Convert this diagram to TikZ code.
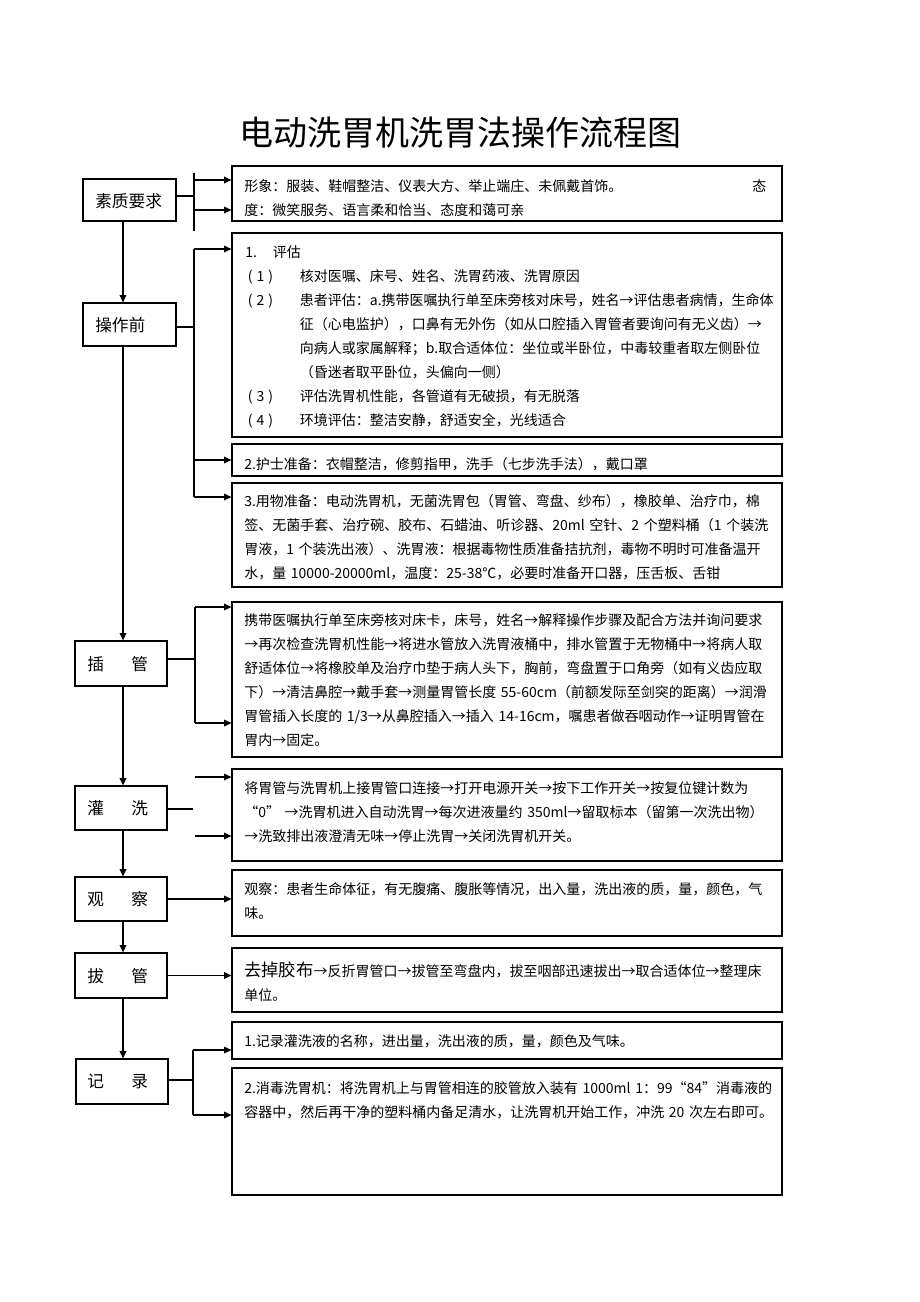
\documentclass[tikz,border=0pt]{standalone}
\usepackage{fontspec}
\setmainfont{Noto Sans CJK SC}
\usepackage{tikz}
\usetikzlibrary{arrows.meta, fit, positioning}
\tikzstyle{stepbox} = [draw, line width=0.9pt, inner sep=0pt]
\tikzstyle{infobox} = [draw, line width=0.9pt, inner sep=0pt]
\tikzstyle{conn} = [draw, line width=0.9pt]
\tikzstyle{arrow} = [draw, line width=0.9pt, -{Triangle[length=5.5pt, width=5pt]}]
\tikzstyle{steptext} = [anchor=west, inner sep=0pt, font=\fontsize{12.5pt}{15pt}\selectfont]
\tikzstyle{boxtext} = [anchor=base west, inner sep=0pt, text width=400pt, align=left, font=\fontsize{10.5pt}{18pt}\selectfont]

\begin{document}
\begin{tikzpicture}[x=0.75pt, y=-0.75pt]
\useasboundingbox (0,0) rectangle (920,1302);

\node[font=\fontsize{25.5pt}{30pt}\selectfont, inner sep=0pt] (title) at (460,133) {电动洗胃机洗胃法操作流程图};

% left column
\node[stepbox, fit={(83,179) (176,221)}] (suzhi) {};
\node[stepbox, fit={(83,303) (176,346)}] (caozuoqian) {};
\node[stepbox, fit={(75,641) (167,686)}] (chaguan) {};
\node[stepbox, fit={(75,786) (167,830)}] (guanxi) {};
\node[stepbox, fit={(75,877) (167,921)}] (guancha) {};
\node[stepbox, fit={(75,953) (167,998)}] (baguan) {};
\node[stepbox, fit={(76,1059) (168,1104)}] (jilu) {};

\node[steptext] (suzhitext) at (95,201) {素质要求};
\node[steptext] (caozuoqiantext) at (95,325) {操作前};
\node[steptext] (chaguantext) at (87,664) {插\hspace{20.5pt}管};
\node[steptext] (guanxitext) at (87,808) {灌\hspace{20.5pt}洗};
\node[steptext] (guanchatext) at (87,899) {观\hspace{20.5pt}察};
\node[steptext] (baguantext) at (87,976) {拔\hspace{20.5pt}管};
\node[steptext] (jilutext) at (87,1081) {记\hspace{20.5pt}录};

% right column
\node[infobox, fit={(232,166) (782,221)}] (xingxiang) {};
\node[infobox, fit={(232,233) (782,437)}] (pinggu) {};
\node[infobox, fit={(232,444) (782,476)}] (hushi) {};
\node[infobox, fit={(232,483) (782,587)}] (yongwu) {};
\node[infobox, fit={(232,602) (782,757)}] (chaguanbox) {};
\node[infobox, fit={(232,769) (782,861)}] (guanxibox) {};
\node[infobox, fit={(232,870) (782,936)}] (guanchabox) {};
\node[infobox, fit={(232,948) (782,1012)}] (baguanbox) {};
\node[infobox, fit={(232,1022) (782,1059)}] (jilubox) {};
\node[infobox, fit={(232,1068) (782,1195)}] (xiaodu) {};

\node[boxtext, text width=391.5pt] (xingxiangtext) at (244,191) {形象：服装、鞋帽整洁、仪表大方、举止端庄、未佩戴首饰。\hfill 态\\度：微笑服务、语言柔和恰当、态度和蔼可亲};

\node[boxtext] (pinggutext) at (245,257) {1.\hspace{12pt}评估\\
\makebox[41pt][l]{\hspace{2pt}(\hspace{3pt}1\hspace{3pt})}核对医嘱、床号、姓名、洗胃药液、洗胃原因\\
\makebox[41pt][l]{\hspace{2pt}(\hspace{3pt}2\hspace{3pt})}患者评估：a.携带医嘱执行单至床旁核对床号，姓名→评估患者病情，生命体\\
\hspace*{41pt}征（心电监护），口鼻有无外伤（如从口腔插入胃管者要询问有无义齿）→\\
\hspace*{41pt}向病人或家属解释；b.取合适体位：坐位或半卧位，中毒较重者取左侧卧位\\
\hspace*{41pt}（昏迷者取平卧位，头偏向一侧）\\
\makebox[41pt][l]{\hspace{2pt}(\hspace{3pt}3\hspace{3pt})}评估洗胃机性能，各管道有无破损，有无脱落\\
\makebox[41pt][l]{\hspace{2pt}(\hspace{3pt}4\hspace{3pt})}环境评估：整洁安静，舒适安全，光线适合};

\node[boxtext] (hushitext) at (244,469) {2.护士准备：衣帽整洁，修剪指甲，洗手（七步洗手法），戴口罩};

\node[boxtext] (yongwutext) at (244,506) {3.用物准备：电动洗胃机，无菌洗胃包（胃管、弯盘、纱布），橡胶单、治疗巾，棉\\
签、无菌手套、治疗碗、胶布、石蜡油、听诊器、20ml 空针、2 个塑料桶（1 个装洗\\
胃液，1 个装洗出液）、洗胃液：根据毒物性质准备拮抗剂，毒物不明时可准备温开\\
水，量 10000-20000ml，温度：25-38℃，必要时准备开口器，压舌板、舌钳};

\node[boxtext] (chaguanbt) at (244,625) {携带医嘱执行单至床旁核对床卡，床号，姓名→解释操作步骤及配合方法并询问要求\\
→再次检查洗胃机性能→将进水管放入洗胃液桶中，排水管置于无物桶中→将病人取\\
舒适体位→将橡胶单及治疗巾垫于病人头下，胸前，弯盘置于口角旁（如有义齿应取\\
下）→清洁鼻腔→戴手套→测量胃管长度 55-60cm（前额发际至剑突的距离）→润滑\\
胃管插入长度的 1/3→从鼻腔插入→插入 14-16cm，嘱患者做吞咽动作→证明胃管在\\
胃内→固定。};

\node[boxtext] (guanxibt) at (244,793) {将胃管与洗胃机上接胃管口连接→打开电源开关→按下工作开关→按复位键计数为\\
“0” →洗胃机进入自动洗胃→每次进液量约 350ml→留取标本（留第一次洗出物）\\
→洗致排出液澄清无味→停止洗胃→关闭洗胃机开关。};

\node[boxtext] (guanchabt) at (244,894) {观察：患者生命体征，有无腹痛、腹胀等情况，出入量，洗出液的质，量，颜色，气\\
味。};

\node[boxtext] (baguanbt) at (244,976) {{\fontsize{13pt}{18pt}\selectfont 去掉胶布}→反折胃管口→拔管至弯盘内，拔至咽部迅速拔出→取合适体位→整理床\\
单位。};

\node[boxtext] (jilubt) at (244,1046) {1.记录灌洗液的名称，进出量，洗出液的质，量，颜色及气味。};

\node[boxtext] (xiaodutext) at (244,1093) {2.消毒洗胃机：将洗胃机上与胃管相连的胶管放入装有 1000ml 1：99“84”消毒液的\\
容器中，然后再干净的塑料桶内备足清水，让洗胃机开始工作，冲洗 20 次左右即可。};

% main flow
\coordinate (spine) at (123,0);
\draw[arrow] (suzhi.south -| spine) -- (caozuoqian.north -| spine);
\draw[arrow] (caozuoqian.south -| spine) -- (chaguan.north -| spine);
\draw[arrow] (chaguan.south -| spine) -- (guanxi.north -| spine);
\draw[arrow] (guanxi.south -| spine) -- (guancha.north -| spine);
\draw[arrow] (guancha.south -| spine) -- (baguan.north -| spine);
\draw[arrow] (baguan.south -| spine) -- (jilu.north -| spine);

% branches
\coordinate (j1) at (194,196);
\coordinate (j1top) at (194,173);
\coordinate (j1bot) at (194,231);
\coordinate (j1a) at (194,180);
\coordinate (j1b) at (194,210);
\draw[conn] (suzhi.east |- j1) -- (j1);
\draw[conn] (j1top) -- (j1bot);
\draw[arrow] (j1a) -- (j1a -| xingxiang.west);
\draw[arrow] (j1b) -- (j1b -| xingxiang.west);

\coordinate (j2) at (194,327);
\coordinate (j2a) at (194,249);
\coordinate (j2b) at (194,460);
\coordinate (j2c) at (194,497);
\draw[conn] (caozuoqian.east |- j2) -- (j2);
\draw[conn] (j2a) -- (j2c);
\draw[arrow] (j2a) -- (j2a -| pinggu.west);
\draw[arrow] (j2b) -- (j2b -| hushi.west);
\draw[arrow] (j2c) -- (j2c -| yongwu.west);

\coordinate (j3) at (195,659);
\coordinate (j3a) at (195,607);
\coordinate (j3b) at (195,723);
\draw[conn] (chaguan.east |- j3) -- (j3);
\draw[conn] (j3a) -- (j3b);
\draw[arrow] (j3a) -- (j3a -| chaguanbox.west);
\draw[arrow] (j3b) -- (j3b -| chaguanbox.west);

\coordinate (j4) at (193,809);
\coordinate (j4a) at (195,777);
\coordinate (j4b) at (195,836);
\draw[conn] (guanxi.east |- j4) -- (j4);
\draw[arrow] (j4a) -- (j4a -| guanxibox.west);
\draw[arrow] (j4b) -- (j4b -| guanxibox.west);

\draw[arrow] (guancha.east) -- (guancha.east -| guanchabox.west);
\draw[arrow] (baguan.east) -- (baguan.east -| baguanbox.west);

\coordinate (j5) at (193,1080);
\coordinate (j5a) at (193,1050);
\coordinate (j5b) at (193,1115);
\draw[conn] (jilu.east |- j5) -- (j5);
\draw[conn] (j5a) -- (j5b);
\draw[arrow] (j5a) -- (j5a -| jilubox.west);
\draw[arrow] (j5b) -- (j5b -| xiaodu.west);
\end{tikzpicture}
\end{document}
